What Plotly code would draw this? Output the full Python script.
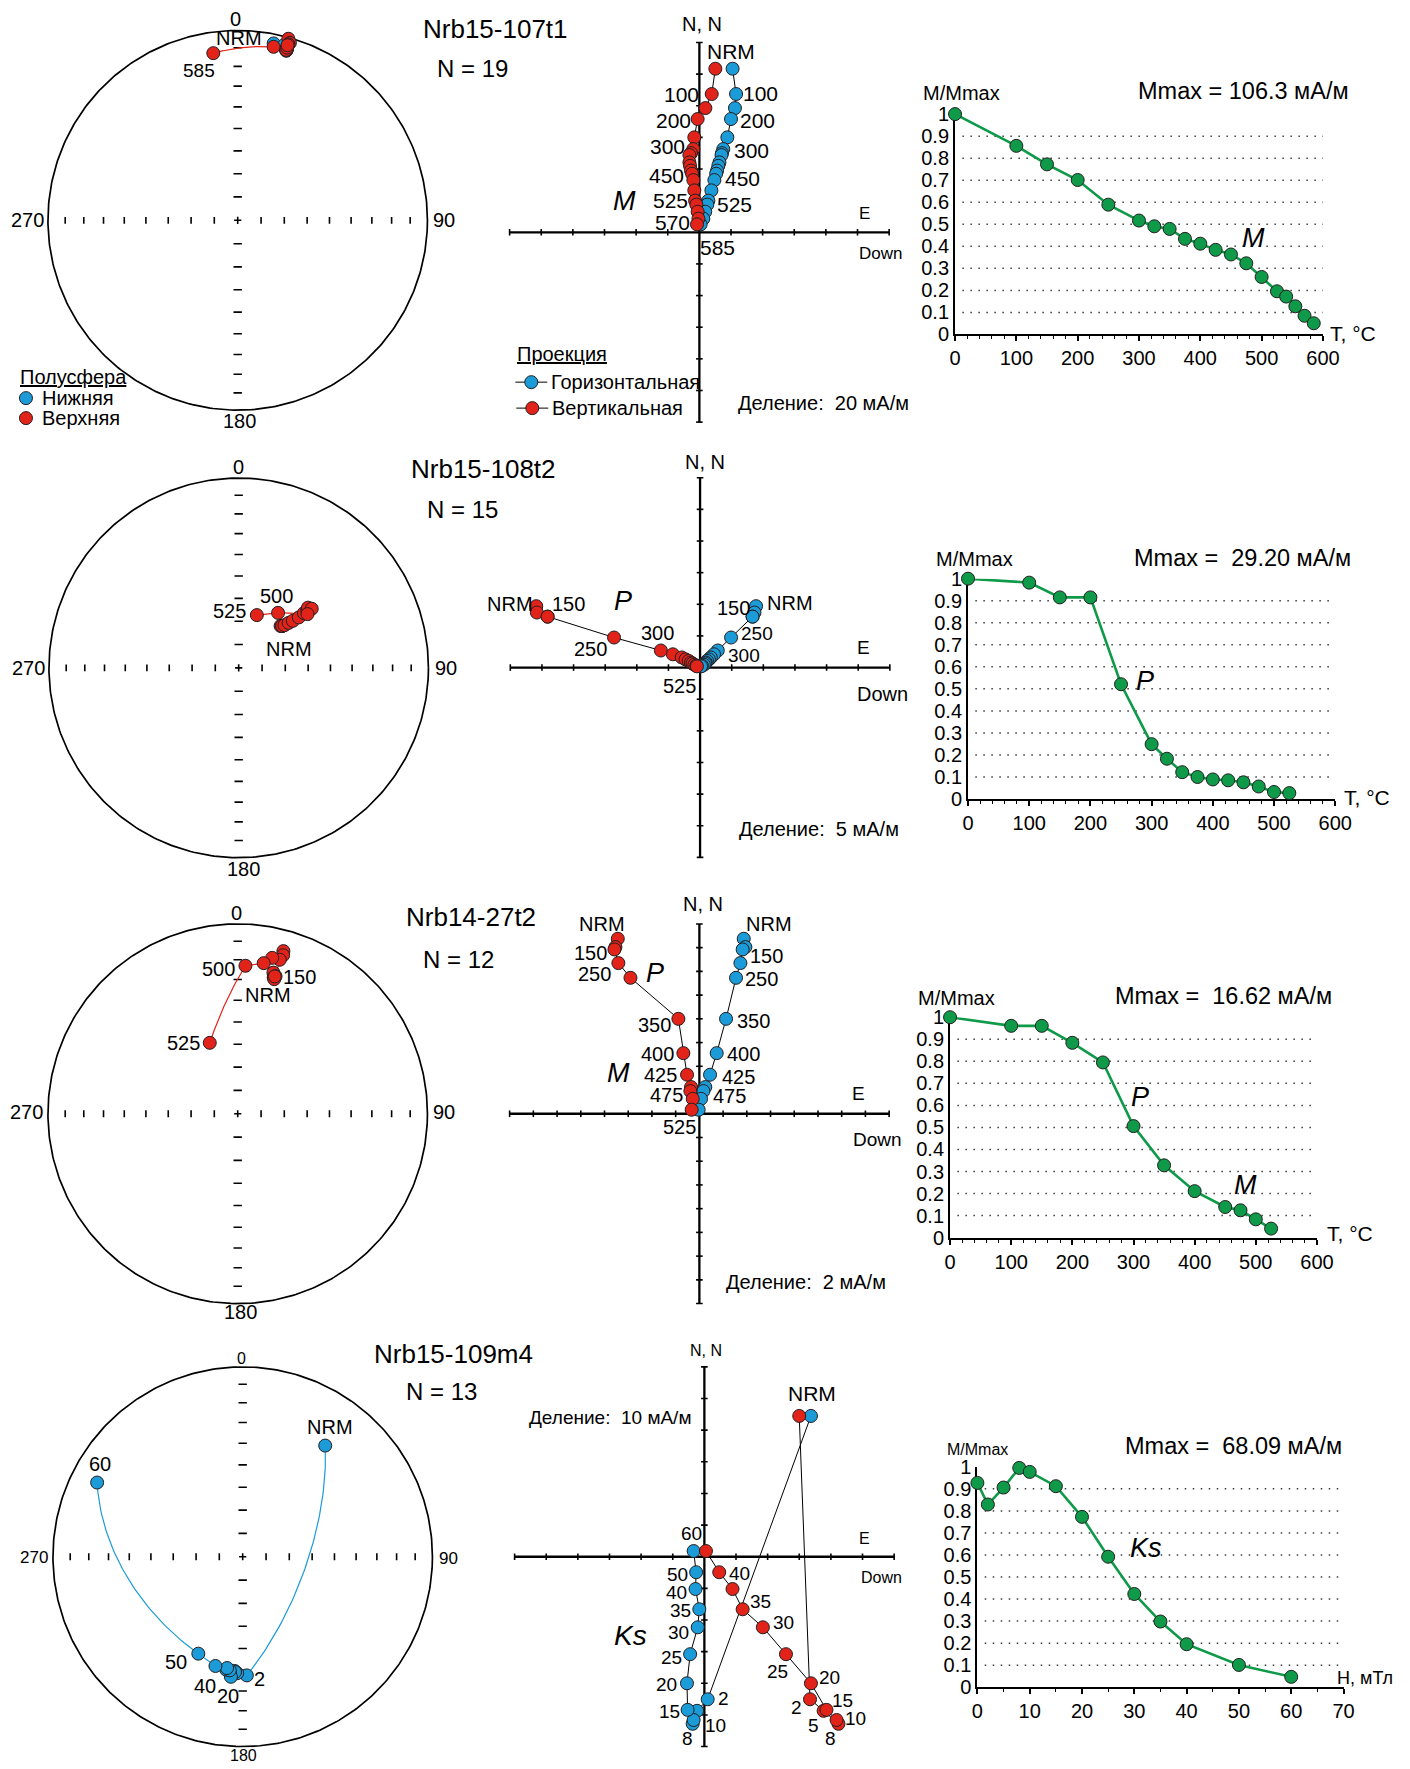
import numpy as np
import plotly.graph_objects as go

W, H = 1410, 1769
FONT = "Liberation Sans, Arial, Helvetica, sans-serif"
RED = "#E2231A"
BLUE = "#1B9BD8"
GREEN = "#0E9A48"
EDGE = "#231F20"
NB = "\u00a0"

# ---------------- Nrb15-107t1 (thermal) ----------------
s1_steps = [0, 100, 150, 200, 250, 300, 325, 350, 375, 400, 425, 450, 475, 500, 525, 540, 555, 570, 585]
s1_mnorm = [1.0, 0.856, 0.772, 0.701, 0.589, 0.517, 0.491, 0.479, 0.434, 0.412, 0.384, 0.363, 0.323,
            0.261, 0.196, 0.172, 0.128, 0.085, 0.051]
s1_north = [103.4, 87.4, 78.5, 71.6, 60.0, 52.6, 50.0, 48.8, 44.2, 42.0, 39.0, 37.0, 33.0, 26.5, 20.0,
            17.5, 13.0, 8.6, 5.0]
s1_east = [21.0, 23.2, 22.5, 20.0, 17.7, 15.1, 14.3, 14.0, 12.7, 12.0, 11.2, 10.6, 9.5, 7.6, 5.7, 5.0,
           3.7, 2.5, 0.8]
s1_down = [10.1, 7.8, 3.8, -1.1, -3.2, -3.8, -5.3, -6.3, -6.3, -5.9, -5.3, -4.6, -3.8, -3.2, -2.7, -1.9,
           -1.1, -0.6, -1.5]
s1_dec = [11.5, 14.9, 16.0, 15.6, 16.4, 16.1, 16.0, 15.8, 16.0, 16.0, 16.0, 16.0, 16.0, 16.0, 15.9, 16.0,
          15.9, 11.7, 351.7]
s1_inc = [5.5, 4.9, 2.7, -0.8, -2.9, -4.0, -5.8, -7.1, -7.8, -7.7, -7.4, -6.8, -6.3, -6.7, -7.4, -6.0,
          -4.6, -7.4, -12.0]

# ---------------- Nrb15-108t2 (thermal) ----------------
s2_steps = [0, 100, 150, 200, 250, 300, 325, 350, 375, 400, 425, 450, 475, 500, 525]
s2_mnorm = [1.0, 0.982, 0.915, 0.915, 0.521, 0.249, 0.183, 0.122, 0.100, 0.089, 0.085, 0.076, 0.057,
            0.032, 0.027]
s2_north = [9.7, 8.7, 8.05, 8.05, 4.75, 2.7, 2.1, 1.6, 1.3, 1.05, 0.8, 0.65, 0.45, 0.3, 0.2]
s2_east = [8.85, 8.6, 8.3, 8.3, 4.9, 2.8, 2.2, 1.7, 1.4, 1.1, 0.9, 0.8, 0.6, 0.3, 0.15]
s2_down = [-25.9, -25.8, -24.1, -24.1, -13.6, -6.2, -4.3, -2.9, -2.3, -1.8, -1.45, -1.2, -0.9, -0.6, -0.5]
s2_dec = [46.0, 45.0, 46.0, 46.0, 47.0, 48.0, 49.0, 50.0, 50.0, 50.0, 49.0, 51.0, 52.0, 35.6, 19.0]
s2_inc = [-64.0, -64.5, -64.0, -64.0, -63.0, -61.0, -59.0, -56.0, -53.0, -51.0, -50.0, -49.0, -52.0,
          -60.8, -66.0]

# ---------------- Nrb14-27t2 (thermal) ----------------
s3_steps = [0, 100, 150, 200, 250, 300, 350, 400, 450, 475, 500, 525]
s3_mnorm = [1.0, 0.961, 0.961, 0.884, 0.795, 0.506, 0.328, 0.211, 0.139, 0.124, 0.083, 0.041]
s3_north = [14.75, 14.05, 13.85, 12.7, 11.46, 8.0, 5.11, 3.29, 2.25, 1.91, 1.26, 0.34]
s3_east = [3.74, 3.88, 3.65, 3.46, 3.09, 2.25, 1.46, 0.9, 0.5, 0.34, 0.14, -0.06]
s3_down = [-6.88, -7.08, -7.16, -6.83, -5.81, -1.77, -1.35, -1.04, -0.70, -0.76, -0.56, -0.65]
s3_dec = [14.2, 15.4, 14.8, 15.2, 15.1, 15.7, 16.0, 15.3, 12.5, 9.8, 3.0, 338.5]
s3_inc = [-24.3, -25.8, -26.6, -27.4, -26.0, -12.0, -14.2, -17.0, -17.0, -20.6, -23.0, -57.0]

# ---------------- Nrb15-109m4 (alternating field) ----------------
s4_steps = [0, 2, 5, 8, 10, 15, 20, 25, 30, 35, 40, 50, 60]
s4_mnorm = [0.927, 0.829, 0.906, 0.995, 0.977, 0.912, 0.773, 0.592, 0.423, 0.298, 0.195, 0.101, 0.047]
s4_north = [44.5, -45.05, -48.7, -52.8, -51.6, -48.4, -40.0, -30.8, -22.3, -16.6, -10.2, -4.9, 1.8]
s4_east = [33.7, 1.05, -2.3, -3.7, -3.4, -5.3, -5.5, -4.5, -2.1, -1.6, -2.8, -2.6, -3.4]
s4_down = [30.0, 33.4, 37.7, 42.4, 41.8, 38.6, 33.7, 25.8, 18.5, 12.1, 8.9, 4.7, 0.5]
s4_dec = [36.6, 178.0, 182.7, 184.0, 183.8, 186.2, 185.6, 188.3, 186.5, 188.0, 194.0, 204.6, 297.0]
s4_inc = [27.9, 37.5, 38.5, 39.5, 39.0, 38.4, 36.6, 39.7, 39.6, 40.5, 40.4, 43.2, 15.0]

fig = go.Figure()
axes_layout = {}
annotations = []
axis_no = [0]


# Sheet layout is specified in sheet pixels; these map it onto the figure canvas.
def PX(x):
    return (x - 4.0) / 0.985


def PY(y):
    return min((y - 9.5) / 0.9885, H - 1.0)


def new_axes(x0, x1, y0, y1, xr, yr, raw=False):
    """Create an x/y axis pair whose plot area is the sheet box (x0..x1, y0..y1)."""
    axis_no[0] += 1
    n = axis_no[0]
    sx = "" if n == 1 else str(n)
    if not raw:
        x0, x1, y0, y1 = PX(x0), PX(x1), PY(y0), PY(y1)
    hidden = dict(visible=False, showgrid=False, zeroline=False, fixedrange=True)
    axes_layout["xaxis" + sx] = dict(domain=[max(0, x0 / W), min(1, x1 / W)], range=xr,
                                     anchor="y" + sx, **hidden)
    axes_layout["yaxis" + sx] = dict(domain=[max(0, 1 - y1 / H), min(1, 1 - y0 / H)], range=yr,
                                     anchor="x" + sx, **hidden)
    return "x" + sx, "y" + sx


def txt(x, y, s, size=20, anchor="center", italic=False):
    if italic:
        s = "<i>" + s + "</i>"
    annotations.append(dict(x=PX(x) / W, y=1 - PY(y) / H, xref="paper", yref="paper", text=s,
                            showarrow=False, xanchor=anchor, yanchor="middle",
                            font=dict(family=FONT, size=size, color="black")))


def underlined(s):
    return '<span style="text-decoration:underline">' + s + "</span>"


# ---------------- stereonet (equal-area, Schmidt) ----------------
def schmidt_r(inc):
    return np.sqrt(2.0) * np.sin(np.radians(90.0 - np.abs(np.asarray(inc, float))) / 2.0)


def stereo_xy(dec, inc):
    r = schmidt_r(inc)
    d = np.radians(np.asarray(dec, float))
    return r * np.sin(d), r * np.cos(d)


def unit_vec(dec, inc):
    d, i = np.radians(dec), np.radians(inc)
    return np.array([np.cos(i) * np.cos(d), np.cos(i) * np.sin(d), np.sin(i)])


def great_arc(d1, i1, d2, i2, n=60):
    a, b = unit_vec(d1, i1), unit_vec(d2, i2)
    om = np.arccos(np.clip(a @ b, -1, 1))
    if om < 1e-6:
        return stereo_xy([d1, d2], [i1, i2])
    t = np.linspace(0, 1, n)[:, None]
    v = (np.sin((1 - t) * om) * a + np.sin(t * om) * b) / np.sin(om)
    inc = np.degrees(np.arcsin(np.clip(v[:, 2], -1, 1)))
    dec = np.degrees(np.arctan2(v[:, 1], v[:, 0]))
    return stereo_xy(dec, inc)


R_PX = 190.0


def stereonet(cx, cy, dec, inc):
    hp = 195.0
    lim = hp / R_PX
    xr, yr = new_axes(cx - hp, cx + hp, cy - hp, cy + hp, [-lim, lim], [-lim, lim])
    th = np.linspace(0, 2 * np.pi, 400)
    fig.add_trace(go.Scatter(x=np.cos(th), y=np.sin(th), mode="lines", xaxis=xr, yaxis=yr,
                             line=dict(color="black", width=1.7), hoverinfo="skip"))
    rr = schmidt_r(np.arange(10, 90, 10))
    hv, hh, c = 3.4 / R_PX, 4.2 / R_PX, 3.6 / R_PX
    tx, ty = [], []
    for r in rr:
        for sg in (-1, 1):
            tx += [sg * r, sg * r, None, -hh, hh, None]
            ty += [-hv, hv, None, sg * r, sg * r, None]
    tx += [-c, c, None, 0, 0, None]
    ty += [0, 0, None, -c, c, None]
    fig.add_trace(go.Scatter(x=tx, y=ty, mode="lines", xaxis=xr, yaxis=yr,
                             line=dict(color="black", width=1.6), hoverinfo="skip"))
    # connecting great-circle arcs
    seg = {RED: ([], []), BLUE: ([], [])}
    for k in range(len(dec) - 1):
        ax_, ay_ = great_arc(dec[k], inc[k], dec[k + 1], inc[k + 1])
        col = BLUE if (inc[k] >= 0 and inc[k + 1] >= 0) else RED
        seg[col][0].extend(list(ax_) + [None])
        seg[col][1].extend(list(ay_) + [None])
    for col, (lx, ly) in seg.items():
        if lx:
            fig.add_trace(go.Scatter(x=lx, y=ly, mode="lines", xaxis=xr, yaxis=yr,
                                     line=dict(color=col, width=1.2), hoverinfo="skip"))
    x, y = stereo_xy(dec, inc)
    inc_a = np.asarray(inc)
    for col, mask in ((BLUE, inc_a >= 0), (RED, inc_a < 0)):
        if mask.any():
            fig.add_trace(go.Scatter(x=x[mask], y=y[mask], mode="markers", xaxis=xr, yaxis=yr,
                                     cliponaxis=False,
                                     marker=dict(size=13, color=col, line=dict(color=EDGE, width=1))))


# ---------------- Zijderveld diagram ----------------
def zijderveld(ox, oy, px_div, div, ndiv, north, east, down):
    s = px_div / div
    hp = px_div * ndiv + 6
    lim = hp / s
    xr, yr = new_axes(ox - hp, ox + hp, oy - hp, oy + hp, [-lim, lim], [-lim, lim])
    ext = ndiv * div
    tl = 3.3 / s
    ax, ay = [-ext, ext, None, 0, 0, None], [0, 0, None, -ext, ext, None]
    fig.add_trace(go.Scatter(x=ax, y=ay, mode="lines", xaxis=xr, yaxis=yr, cliponaxis=False,
                             line=dict(color="black", width=2.3), hoverinfo="skip"))
    tx, ty = [], []
    for k in range(-ndiv, ndiv + 1):
        if k == 0:
            continue
        v = k * div
        tx += [v, v, None, -tl, tl, None]
        ty += [-tl, tl, None, v, v, None]
    fig.add_trace(go.Scatter(x=tx, y=ty, mode="lines", xaxis=xr, yaxis=yr, cliponaxis=False,
                             line=dict(color="black", width=1.6), hoverinfo="skip"))
    for xs in (east, down):
        fig.add_trace(go.Scatter(x=xs, y=north, mode="lines", xaxis=xr, yaxis=yr,
                                 line=dict(color="black", width=1), hoverinfo="skip"))
    for xs, col in ((east, BLUE), (down, RED)):
        fig.add_trace(go.Scatter(x=xs, y=north, mode="markers", xaxis=xr, yaxis=yr, cliponaxis=False,
                                 marker=dict(size=13, color=col, line=dict(color=EDGE, width=1))))


# ---------------- normalised intensity curve ----------------
def demag(x0, x1, y0, y1, xmax, dtick, minor, steps, mnorm):
    xr, yr = new_axes(x0, x1, y0, y1, [0, xmax], [0, 1])
    xa = "xaxis" + xr[1:]
    ya = "yaxis" + yr[1:]
    tf = dict(family=FONT, size=20, color="black")
    axes_layout[xa].update(visible=True, showline=True, linecolor="black", linewidth=2,
                           ticks="outside", ticklen=5, tickwidth=1.5, tickcolor="black",
                           tickmode="linear", tick0=0, dtick=dtick, tickfont=tf, layer="below traces",
                           minor=dict(ticks="outside", ticklen=3, tickwidth=1, dtick=minor, tick0=0,
                                      tickcolor="black"))
    yv = [round(0.1 * k, 1) for k in range(11)]
    axes_layout[ya].update(visible=True, showline=True, linecolor="black", linewidth=2, ticks="",
                           tickmode="array", tickvals=yv,
                           ticktext=["0"] + [f"{v:.1f}" for v in yv[1:-1]] + ["1"],
                           tickfont=tf, layer="below traces")
    gx, gy = [], []
    for v in yv[1:-1]:
        gx += [xmax * 0.02, xmax, None]
        gy += [v, v, None]
    fig.add_trace(go.Scatter(x=gx, y=gy, mode="lines", xaxis=xr, yaxis=yr, hoverinfo="skip",
                             line=dict(color="#3a3a3a", width=1.5, dash="1.5px,6.5px")))
    fig.add_trace(go.Scatter(x=steps, y=mnorm, mode="lines+markers", xaxis=xr, yaxis=yr, cliponaxis=False,
                             line=dict(color=GREEN, width=2.6),
                             marker=dict(size=13, color=GREEN, line=dict(color=EDGE, width=1))))


# ======== row 1: Nrb15-107t1 ========
stereonet(236.0, 219.0, s1_dec, s1_inc)
zijderveld(698.3, 231.0, 31.67, 20, 6, s1_north, s1_east, s1_down)
demag(954.3, 1322.7, 112.7, 333.3, 600, 100, 20, s1_steps, s1_mnorm)

# ======== row 2: Nrb15-108t2 ========
stereonet(237.0, 667.0, s2_dec, s2_inc)
zijderveld(699.0, 666.7, 31.67, 5, 6, s2_north, s2_east, s2_down)
demag(967.3, 1335.0, 577.7, 798.3, 600, 100, 20, s2_steps, s2_mnorm)

# ======== row 3: Nrb14-27t2 ========
stereonet(236.0, 1113.3, s3_dec, s3_inc)
zijderveld(698.3, 1113.3, 23.75, 2, 8, s3_north, s3_east, s3_down)
demag(949.3, 1316.7, 1016.7, 1237.3, 600, 100, 20, s3_steps, s3_mnorm)

# ======== row 4: Nrb15-109m4 ========
stereonet(241.0, 1556.7, s4_dec, s4_inc)
zijderveld(703.3, 1556.7, 31.67, 10, 6, s4_north, s4_east, s4_down)
demag(976.7, 1343.3, 1466.7, 1687.3, 70, 10, 5, s4_steps, s4_mnorm)

# ---------------- legend swatches (canvas pixel overlay) ----------------
ox_, oy_ = new_axes(0, W, 0, H, [0, W], [H, 0], raw=True)
for (lx, ly, col, with_line) in ((24, 397, BLUE, False), (24, 417, RED, False),
                                 (530, 381, BLUE, True), (531, 407, RED, True)):
    if with_line:
        fig.add_trace(go.Scatter(x=[PX(lx - 16), PX(lx + 16)], y=[PY(ly), PY(ly)], mode="lines",
                                 xaxis=ox_, yaxis=oy_, line=dict(color="black", width=1), hoverinfo="skip"))
    fig.add_trace(go.Scatter(x=[PX(lx)], y=[PY(ly)], mode="markers", xaxis=ox_, yaxis=oy_, cliponaxis=False,
                             marker=dict(size=13, color=col, line=dict(color=EDGE, width=1))))

# ---------------- texts ----------------
# row 1
txt(494, 28, "Nrb15-107t1", 26)
txt(471, 67, "N = 19", 24)
txt(234, 18, "0", 20); txt(238, 420, "180", 20); txt(26, 219, "270", 20); txt(443, 219, "90", 20)
txt(237, 37, "NRM", 20); txt(197, 69, "585", 19)
txt(16, 376, underlined("Полусфера"), 20, anchor="left")
txt(38, 397, "Нижняя", 20, anchor="left"); txt(38, 417, "Верхняя", 20, anchor="left")
txt(701, 23, "N, N", 20); txt(864, 212, "E", 17); txt(880, 252, "Down", 17)
txt(730, 50, "NRM", 21)
for (x, y, s) in ((760, 92, "100"), (757, 119, "200"), (750, 149, "300"), (741, 177, "450"),
                  (733, 203, "525"), (716, 246, "585"), (680, 93, "100"), (672, 119, "200"),
                  (666, 145, "300"), (665, 174, "450"), (669, 199, "525"), (671, 221, "570")):
    txt(x, y, s, 21)
txt(623, 200, "M", 27, italic=True)
txt(514, 353, underlined("Проекция"), 20, anchor="left")
txt(548, 381, "Горизонтальная", 20, anchor="left")
txt(549, 407, "Вертикальная", 20, anchor="left")
txt(823, 402, "Деление:" + NB + " 20 мА/м", 20)
txt(961, 92, "M/Mmax", 20)
txt(1243, 90, "Mmax = 106.3 мА/м", 23.5)
txt(1353, 332, "T, °C", 21)
txt(1253, 237, "M", 27, italic=True)

# row 2
txt(482, 468, "Nrb15-108t2", 26)
txt(461, 508, "N = 15", 24)
txt(237, 466, "0", 20); txt(242, 868, "180", 20); txt(27, 667, "270", 20); txt(445, 667, "90", 20)
txt(275, 595, "500", 20); txt(228, 610, "525", 20); txt(287, 648, "NRM", 20)
txt(704, 461, "N, N", 20); txt(863, 647, "E", 19); txt(882, 693, "Down", 20)
for (x, y, s) in ((509, 603, "NRM"), (567, 603, "150"), (589, 648, "250"), (656, 632, "300"),
                  (678, 685, "525"), (732, 607, "150"), (789, 602, "NRM")):
    txt(x, y, s, 20)
txt(756, 633, "250", 19)
txt(743, 655, "300", 19)
txt(622, 600, "P", 27, italic=True)
txt(818, 828, "Деление:" + NB + " 5 мА/м", 20)
txt(974, 558, "M/Mmax", 20)
txt(1242, 557, "Mmax =" + NB + " 29.20 мА/м", 23.5)
txt(1367, 797, "T, °C", 21)
txt(1145, 680, "P", 27, italic=True)

# row 3
txt(470, 916, "Nrb14-27t2", 26)
txt(457, 959, "N = 12", 24)
txt(235, 912, "0", 20); txt(239, 1312, "180", 20); txt(25, 1112, "270", 20); txt(443, 1112, "90", 20)
txt(217, 968, "500", 20); txt(298, 976, "150", 20); txt(266, 994, "NRM", 20); txt(182, 1042, "525", 20)
txt(702, 903, "N, N", 20); txt(858, 1093, "E", 19); txt(877, 1139, "Down", 19)
for (x, y, s) in ((601, 923, "NRM"), (589, 952, "150"), (593, 973, "250"), (653, 1024, "350"),
                  (656, 1053, "400"), (659, 1075, "425"), (665, 1095, "475"), (678, 1127, "525"),
                  (768, 923, "NRM"), (766, 955, "150"), (761, 978, "250"), (752, 1020, "350"),
                  (742, 1053, "400"), (737, 1077, "425"), (728, 1096, "475")):
    txt(x, y, s, 20)
txt(654, 972, "P", 27, italic=True)
txt(617, 1073, "M", 27, italic=True)
txt(805, 1282, "Деление:" + NB + " 2 мА/м", 20)
txt(956, 997, "M/Mmax", 20)
txt(1223, 995, "Mmax =" + NB + " 16.62 мА/м", 23.5)
txt(1350, 1233, "T, °C", 21)
txt(1140, 1097, "P", 27, italic=True)
txt(1245, 1185, "M", 27, italic=True)

# row 4
txt(452, 1354, "Nrb15-109m4", 26)
txt(440, 1391, "N = 13", 24)
txt(240, 1358, "0", 16); txt(242, 1756, "180", 16); txt(32, 1557, "270", 17); txt(447, 1558, "90", 17)
txt(328, 1427, "NRM", 20); txt(98, 1464, "60", 20); txt(174, 1662, "50", 20); txt(203, 1686, "40", 20)
txt(226, 1696, "20", 20); txt(258, 1679, "2", 20)
txt(705, 1350, "N, N", 16); txt(864, 1538, "E", 16); txt(881, 1577, "Down", 16)
txt(811, 1393, "NRM", 21)
txt(609, 1417, "Деление:" + NB + " 10 мА/м", 19)
txt(629, 1636, "Ks", 28, italic=True)
for (x, y, s) in ((738, 1573, "40"), (760, 1602, "35"), (783, 1623, "30"), (777, 1672, "25"),
                  (829, 1678, "20"), (842, 1701, "15"), (855, 1719, "10"), (796, 1708, "2"),
                  (813, 1726, "5"), (830, 1739, "8"),
                  (690, 1533, "60"), (676, 1574, "50"), (675, 1593, "40"), (679, 1611, "35"),
                  (677, 1633, "30"), (670, 1658, "25"), (665, 1685, "20"), (668, 1712, "15"),
                  (722, 1699, "2"), (714, 1726, "10"), (686, 1739, "8")):
    txt(x, y, s, 19)
txt(977, 1449, "M/Mmax", 16)
txt(1233, 1446, "Mmax =" + NB + " 68.09 мА/м", 23.5)
txt(1365, 1678, "H, мТл", 18)
txt(1146, 1548, "Ks", 27, italic=True)

fig.update_layout(
    width=W, height=H, margin=dict(l=0, r=0, t=0, b=0),
    paper_bgcolor="white", plot_bgcolor="rgba(0,0,0,0)",
    showlegend=False, font=dict(family=FONT, color="black"),
    annotations=annotations, **axes_layout,
)

fig.write_html("out.html")
